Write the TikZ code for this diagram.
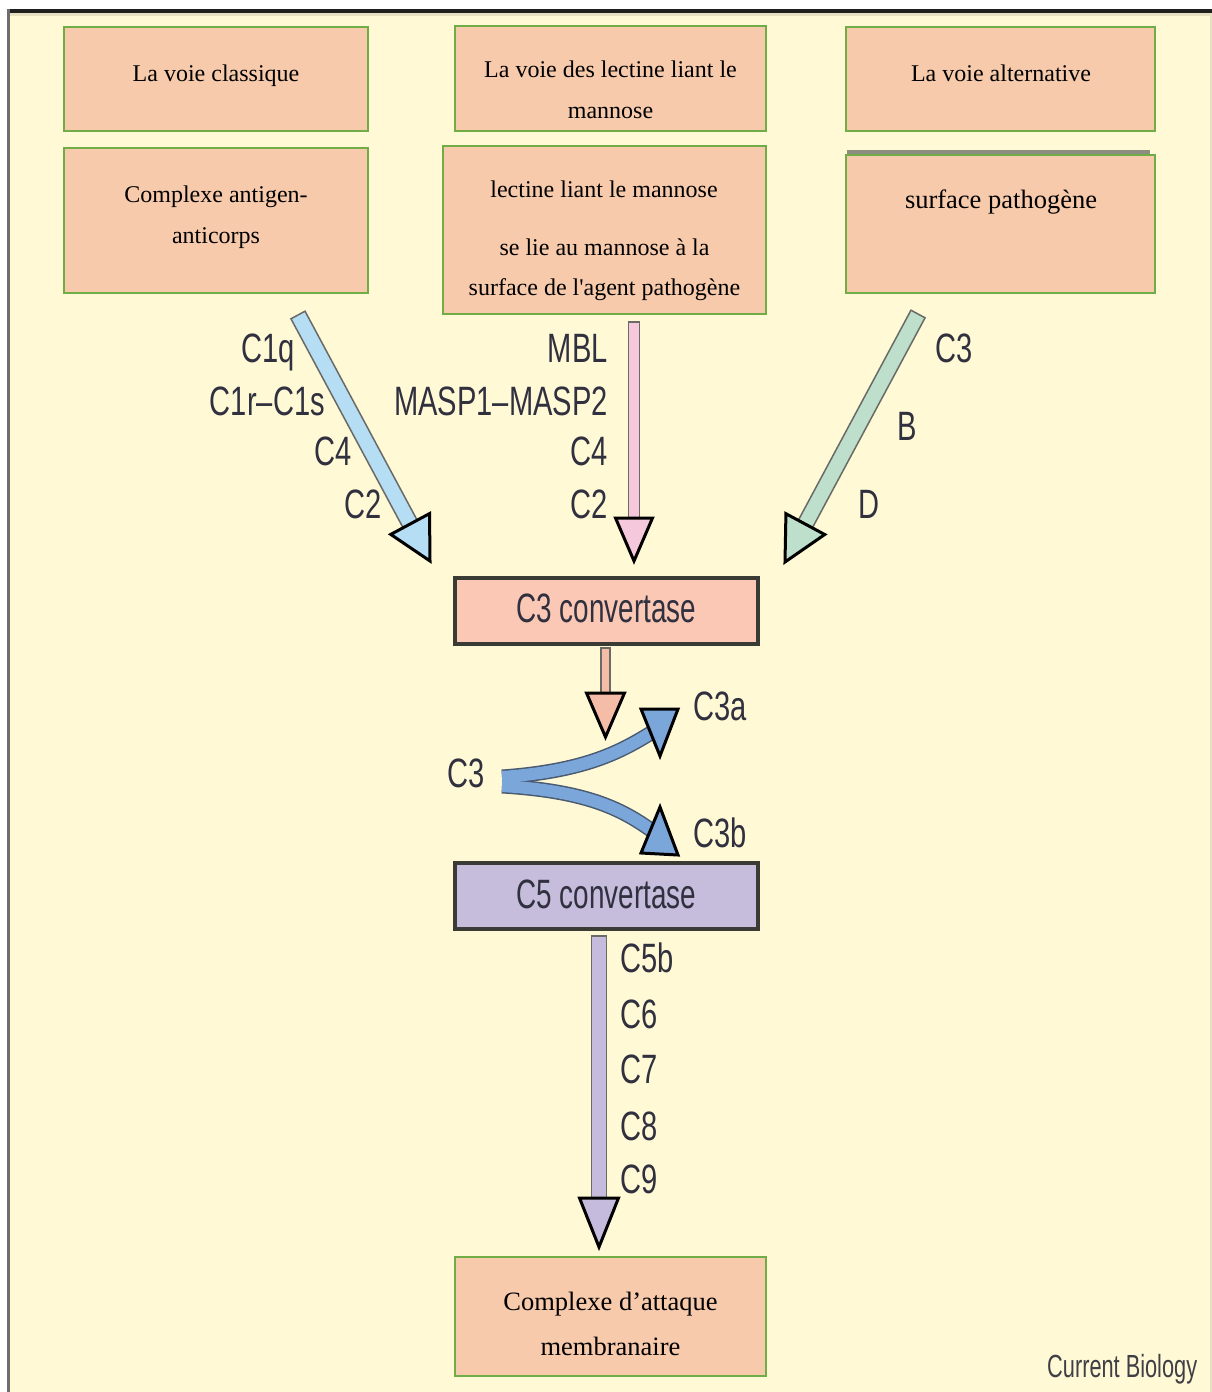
\documentclass[tikz,border=0pt]{standalone}
\usepackage{fontspec}
\setmainfont{Liberation Serif}[Ligatures=TeXOff]
\newfontfamily\labfont[FakeStretch=0.71]{Liberation Sans}
\newfontfamily\convfont[FakeStretch=0.68]{Liberation Sans}
\newfontfamily\cbfont[FakeStretch=0.68]{Liberation Sans}
\usetikzlibrary{calc}
\definecolor{bgcream}{HTML}{FFF9D6}
\definecolor{boxfill}{HTML}{F7CAAC}
\definecolor{boxline}{HTML}{70AD47}
\definecolor{cthree}{HTML}{FAC8B4}
\definecolor{cfive}{HTML}{C6BCDC}
\definecolor{convline}{HTML}{3B3B35}
\definecolor{labcol}{HTML}{30303F}
\definecolor{arrblue}{HTML}{B5DEF5}
\definecolor{arrpink}{HTML}{F5C8DC}
\definecolor{arrgreen}{HTML}{BEDFCC}
\definecolor{arrsalmon}{HTML}{F5BCA8}
\definecolor{arrcurve}{HTML}{7AA6DA}
\definecolor{curveline}{HTML}{4A5A70}
\definecolor{arrlav}{HTML}{C5BBDC}
\definecolor{shaftline}{HTML}{6A6A66}
\definecolor{tanstrip}{HTML}{E6DFC0}
\definecolor{framegray}{HTML}{6E6E6E}
\definecolor{topbar}{HTML}{8E8E80}
\definecolor{cbcol}{HTML}{3F3F46}
% straight fat arrow: #1 tail, #2 tip, #3 fill, #4 half shaft, #5 half head, #6 head length
\newcommand\fatarrow[6]{%
  \coordinate (fa-h) at ($(#2)!#6!(#1)$);
  \fill[#3,draw=shaftline,line width=1.5] ($(#1)!#4!90:(#2)$) -- ($(fa-h)!#4!90:(#2)$)
     -- ($(fa-h)!#4!-90:(#2)$) -- ($(#1)!#4!-90:(#2)$) -- cycle;
  \filldraw[fill=#3,draw=black,line width=3,line join=miter]
     ($(fa-h)!#5!90:(#2)$) -- (#2) -- ($(fa-h)!#5!-90:(#2)$) -- cycle;
}
\tikzset{
  pbox/.style={draw=boxline, fill=boxfill, line width=2.5pt, inner sep=0pt},
  convbox/.style={draw=convline, line width=3.5pt, inner sep=0pt, minimum width=303pt, minimum height=66pt},
  btxt/.style={anchor=base, inner sep=0pt, font=\fontsize{24}{28}\selectfont},
  bigtxt/.style={anchor=base, inner sep=0pt, font=\fontsize{26.5}{30}\selectfont},
  labr/.style={anchor=base east, inner sep=0pt, text=labcol, font=\labfont\fontsize{41}{41}\selectfont},
  labl/.style={anchor=base west, inner sep=0pt, text=labcol, font=\labfont\fontsize{41}{41}\selectfont},
  convtxt/.style={anchor=base, inner sep=0pt, text=labcol, font=\convfont\fontsize{41}{41}\selectfont},
}
\begin{document}
\begin{tikzpicture}[x=1pt,y=-1pt]
\useasboundingbox (0,0) rectangle (1212,1392);
% frame and background
\fill[white] (0,0) rectangle (1212,1392);
\fill[bgcream] (8,12) rectangle (1212,1392);
\fill[tanstrip] (10,12) rectangle (1212,16);
\fill[black!88] (7,9) rectangle (1212,12.5);
\fill[framegray] (7,9) rectangle (10,1392);
\fill[tanstrip] (1209.5,16) rectangle (1212,1392);

% top row boxes
\node[pbox, minimum width=304pt, minimum height=104pt] (b1) at (216,79) {};
\node[pbox, minimum width=304pt, minimum height=145pt] (b2) at (216,220.5) {};
\node[pbox, minimum width=311pt, minimum height=105pt] (b3) at (610.5,78.5) {};
\node[pbox, minimum width=323pt, minimum height=168pt] (b4) at (604.5,230) {};
\node[pbox, minimum width=309pt, minimum height=104pt] (b5) at (1000.5,79) {};
\fill[topbar] (847,149.5) rectangle (1150,153.5);
\node[pbox, minimum width=309pt, minimum height=138pt] (b6) at (1000.5,224) {};
\node[pbox, minimum width=311pt, minimum height=119pt] (b7) at (610.5,1316.5) {};

\node[btxt] (t1) at (216,81) {La voie classique};
\node[btxt] (t2a) at (216,202) {Complexe antigen-};
\node[btxt] (t2b) at (216,243) {anticorps};
\node[btxt] (t3a) at (610.5,77) {La voie des lectine liant le};
\node[btxt] (t3b) at (610.5,118) {mannose};
\node[btxt] (t4a) at (604,197) {lectine liant le mannose};
\node[btxt] (t4b) at (604.5,255) {se lie au mannose à la};
\node[btxt] (t4c) at (604.5,295) {surface de l'agent pathogène};
\node[btxt] (t5) at (1001,81) {La voie alternative};
\node[bigtxt] (t6) at (1001,208) {surface pathogène};
\node[bigtxt] (t7a) at (610.5,1310) {Complexe d’attaque};
\node[bigtxt] (t7b) at (610.5,1355) {membranaire};

% convertase boxes
\node[convbox, fill=cthree] (c3box) at (606.5,611) {};
\node[convtxt] (c3t) at (606.5,622) {C3 convertase};
\node[convbox, fill=cfive] (c5box) at (606.5,896) {};
\node[convtxt] (c5t) at (606.5,908) {C5 convertase};

% arrow end points
\coordinate (ablue-s) at (298,315);
\coordinate (ablue-e) at (430,561);
\coordinate (apink-s) at (634,322);
\coordinate (apink-e) at (634,561);
\coordinate (agreen-s) at (918,314);
\coordinate (agreen-e) at (785,562);
\coordinate (asalm-s) at (605.5,648);
\coordinate (asalm-e) at (605.5,737);
\coordinate (alav-s) at (599,936);
\coordinate (alav-e) at (599,1247);

\fatarrow{ablue-s}{ablue-e}{arrblue}{8pt}{22pt}{42pt}
\fatarrow{apink-s}{apink-e}{arrpink}{5.5pt}{18.5pt}{43pt}
\fatarrow{agreen-s}{agreen-e}{arrgreen}{8pt}{22pt}{43pt}
\fatarrow{asalm-s}{asalm-e}{arrsalmon}{4.5pt}{19pt}{44pt}
\fatarrow{alav-s}{alav-e}{arrlav}{7.5pt}{19.5pt}{49pt}

% C3 split arrows
\coordinate (sp-up) at (502,777);
\coordinate (sp-dn) at (502,786);
\coordinate (c3a-base) at (651,733);
\coordinate (c3b-base) at (651,830);
\coordinate (c3a-tip) at (678,709);
\coordinate (c3b-tip) at (678,855);
\draw[curveline, line width=15] (sp-up) .. controls (585,771) and (620,752) .. (c3a-base);
\draw[curveline, line width=15] (sp-dn) .. controls (585,791) and (620,808) .. (c3b-base);
\draw[arrcurve, line width=12] (sp-up) .. controls (585,771) and (620,752) .. (c3a-base);
\draw[arrcurve, line width=12] (sp-dn) .. controls (585,791) and (620,808) .. (c3b-base);
\filldraw[fill=arrcurve, draw=black, line width=3, line join=miter] (641,709) -- (c3a-tip) -- (660,756) -- cycle;
\filldraw[fill=arrcurve, draw=black, line width=3, line join=miter] (660,807) -- (c3b-tip) -- (641,853) -- cycle;

% labels
\node[labr] (l1) at (295,362) {C1q};
\node[labr] (l2) at (325,415) {C1r–C1s};
\node[labr] (l3) at (352,465) {C4};
\node[labr] (l4) at (382,518) {C2};
\node[labr] (m1) at (608,362) {MBL};
\node[labr] (m2) at (608,415) {MASP1–MASP2};
\node[labr] (m3) at (608,465) {C4};
\node[labr] (m4) at (608,518) {C2};
\node[labl] (r1) at (935,362) {C3};
\node[labl] (r2) at (897,440) {B};
\node[labl] (r3) at (858,518) {D};
\node[labl] (s1) at (693,720) {C3a};
\node[labl] (s2) at (447,787) {C3};
\node[labl] (s3) at (693,847) {C3b};
\node[labl] (k1) at (620,972) {C5b};
\node[labl] (k2) at (620,1028) {C6};
\node[labl] (k3) at (620,1083) {C7};
\node[labl] (k4) at (620,1140) {C8};
\node[labl] (k5) at (620,1193) {C9};
\node[anchor=base west, inner sep=0pt, text=cbcol, font=\cbfont\fontsize{32}{32}\selectfont] (cb) at (1047,1377) {Current Biology};
\end{tikzpicture}
\end{document}
